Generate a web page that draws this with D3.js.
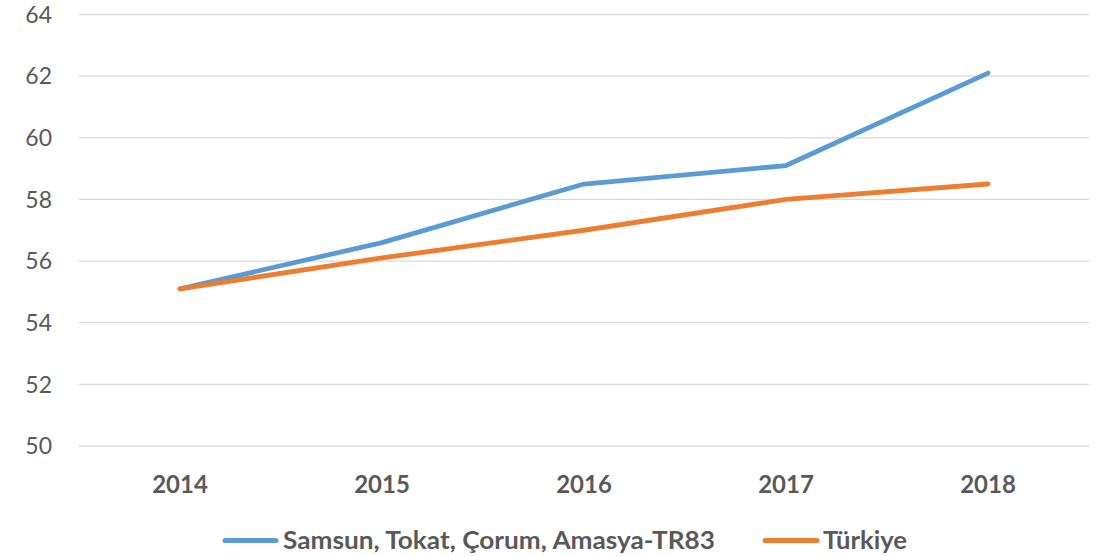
<!DOCTYPE html>
<html><head><meta charset="utf-8">
<script src="https://cdn.jsdelivr.net/npm/d3@7"></script>
<style>body{margin:0;background:#fff;} text{font-family:Lato,"Open Sans",sans-serif;}</style>
</head><body>
<svg id="c" width="1112" height="557"></svg>
<script>
const years = ["2014","2015","2016","2017","2018"];
const tr83 = [55.1, 56.6, 58.5, 59.1, 62.1];
const turkiye = [55.1, 56.1, 57.0, 58.0, 58.5];
const yTicks = [50,52,54,56,58,60,62,64];
const seriesNames = ["Samsun, Tokat, Çorum, Amasya-TR83","Türkiye"];
const colors = ["#5b9bd5","#ed7d31"];

(function(){
const svg = d3.select("#c");
const pL = 79, pR = 1089, pT = 14.5, pB = 446;
const x = d3.scaleBand().domain(years).range([pL,pR]);
const y = d3.scaleLinear().domain([50,64]).range([pB,pT]);

const g = svg.append("g");
g.selectAll("line.grid").data(yTicks).enter().append("line")
  .attr("x1",pL).attr("x2",pR)
  .attr("y1",d=>y(d)).attr("y2",d=>y(d))
  .attr("stroke","#d9d9d9").attr("stroke-width",1.3);

g.selectAll("text.yt").data(yTicks).enter().append("text")
  .attr("x",52).attr("y",d=>y(d)).attr("dy","0.36em")
  .attr("text-anchor","end").attr("fill","#595959")
  .attr("font-size",23).text(d=>d);

g.selectAll("text.xt").data(years).enter().append("text")
  .attr("x",d=>x(d)+x.bandwidth()/2).attr("y",484).attr("dy","0.36em")
  .attr("text-anchor","middle").attr("fill","#595959")
  .attr("font-size",24).attr("font-weight","bold").text(d=>d);

const line = d3.line().x((d,i)=>x(years[i])+x.bandwidth()/2).y(d=>y(d));
[tr83, turkiye].forEach((s,i)=>{
  g.append("path").datum(s).attr("d",line).attr("fill","none")
   .attr("stroke",colors[i]).attr("stroke-width",4.8)
   .attr("stroke-linecap","round").attr("stroke-linejoin","round");
});

const leg = [{x1:225,x2:276,tx:283,w:432},{x1:765,x2:817,tx:823,w:84}];
seriesNames.forEach((n,i)=>{
  svg.append("line").attr("x1",leg[i].x1).attr("x2",leg[i].x2)
    .attr("y1",540.5).attr("y2",540.5).attr("stroke",colors[i])
    .attr("stroke-width",5).attr("stroke-linecap","round");
  svg.append("text").attr("x",leg[i].tx).attr("y",540).attr("dy","0.36em")
    .attr("fill","#595959").attr("font-size",25).attr("font-weight","bold")
    .attr("textLength",leg[i].w).attr("lengthAdjust","spacingAndGlyphs").text(n);
});
})();
</script>
</body></html>
